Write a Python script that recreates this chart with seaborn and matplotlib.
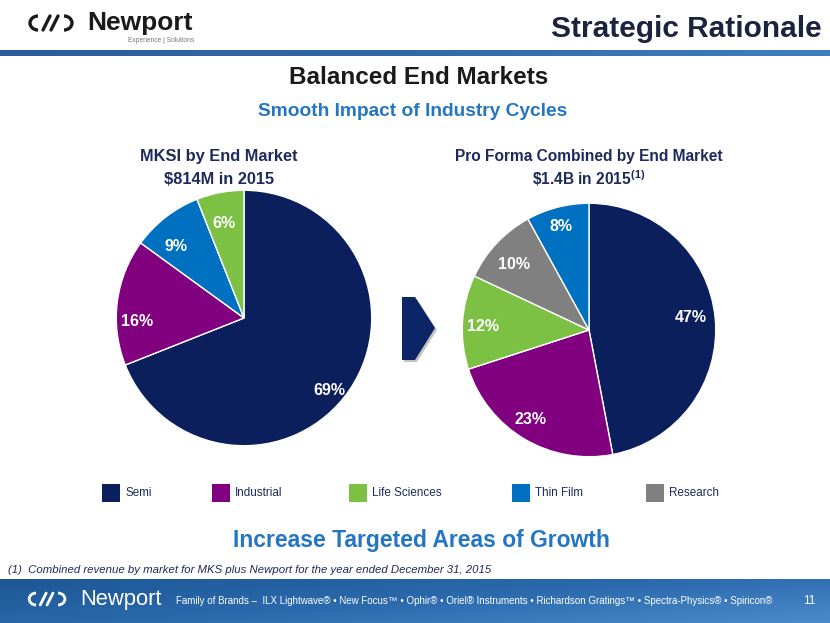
import numpy as np
import matplotlib
matplotlib.use("Agg")
import matplotlib.pyplot as plt
import matplotlib.patches as mpatches
import seaborn as sns

# ---------------- data ----------------
categories = ["Semi", "Industrial", "Life Sciences", "Thin Film", "Research"]
mksi_order = ["Semi", "Industrial", "Thin Film", "Life Sciences"]
mksi_values = [69, 16, 9, 6]
combo_order = ["Semi", "Industrial", "Life Sciences", "Research", "Thin Film"]
combo_values = [47, 23, 12, 10, 8]
mksi_title = ["MKSI by End Market", "$814M in 2015"]
combo_title = ["Pro Forma Combined by End Market", "\\$1.4B in 2015$^{(1)}$"]

# ---------------- style ----------------
sns.set_theme(style="white")
SANS = ["Liberation Sans", "DejaVu Sans"]
NARROW = SANS
plt.rcParams["font.family"] = SANS
plt.rcParams["mathtext.fontset"] = "custom"
plt.rcParams["mathtext.rm"] = "Liberation Sans:bold"
plt.rcParams["mathtext.it"] = "Liberation Sans:bold"

colors = {"Semi": "#0b1f5c", "Industrial": "#800080", "Life Sciences": "#7cc143",
          "Thin Film": "#0070c0", "Research": "#808080"}
NAVY = "#1f2a5c"
BLUE = "#2476c3"

W, H = 830, 623
fig = plt.figure(figsize=(W / 100, H / 100), dpi=100)
fig.patch.set_facecolor("white")

bg = fig.add_axes([0, 0, 1, 1])
bg.set_xlim(0, W)
bg.set_ylim(H, 0)
bg.axis("off")

# top blue line (gradient)
grad = np.linspace(0, 1, 256).reshape(1, -1)
top_cmap = matplotlib.colors.LinearSegmentedColormap.from_list("t", ["#2a5d9a", "#2f6aa8", "#3f7fc0"])
bg.imshow(grad, extent=[0, W, 56, 50], cmap=top_cmap, aspect="auto", zorder=1)

# footer band
foot_cmap = matplotlib.colors.LinearSegmentedColormap.from_list("f", ["#1d5795", "#2b6aad", "#4c8ccb"])
fgrad = np.linspace(0, 1, 256).reshape(-1, 1) * 0.4 + np.linspace(0, 1, 256).reshape(1, -1) * 0.6
bg.imshow(fgrad, extent=[0, W, H, 579], cmap=foot_cmap, aspect="auto", zorder=1)


def logo(ax, x, y, s, col, lw):
    ax.add_patch(mpatches.Arc((x, y), 16 * s, 14 * s, theta1=90, theta2=270, color=col, lw=lw, zorder=3))
    ax.add_patch(mpatches.Arc((x + 26 * s, y), 16 * s, 14 * s, theta1=-90, theta2=90, color=col, lw=lw, zorder=3))
    ax.plot([x + 5 * s, x + 12 * s], [y + 7 * s, y - 7 * s], color=col, lw=lw, zorder=3)
    ax.plot([x + 13 * s, x + 20 * s], [y + 7 * s, y - 7 * s], color=col, lw=lw, zorder=3)


logo(bg, 38, 23, 1.0, "#1a1a1a", 2.4)
bg.text(87, 23, "Newport", fontsize=19, fontweight="bold", color="#1a1a1a",
        family=SANS, va="center", ha="left", zorder=3)
bg.text(128, 41, "Experience | Solutions", fontsize=4.8, color="#777777",
        family=SANS, va="center", ha="left", zorder=3)

# titles
bg.text(822, 29, "Strategic Rationale", fontsize=21.5, fontweight="bold", color="#1c2340",
        family=NARROW, ha="right", va="center", zorder=3)
bg.text(419, 77, "Balanced End Markets", fontsize=17.5, fontweight="bold", color="#1a1a1a",
        family=NARROW, ha="center", va="center", zorder=3)
bg.text(413, 111, "Smooth Impact of Industry Cycles", fontsize=13.8, fontweight="bold", color=BLUE,
        family=NARROW, ha="center", va="center", zorder=3)
bg.text(421, 541, "Increase Targeted Areas of Growth", fontsize=16.5, fontweight="bold", color=BLUE,
        family=NARROW, ha="center", va="center", zorder=3)

for cx, lines, fs in [(219, mksi_title, 11.8), (589, combo_title, 11.2)]:
    bg.text(cx, 157, lines[0], fontsize=fs, fontweight="bold", color=NAVY, family=NARROW,
            ha="center", va="center", zorder=3)
    bg.text(cx, 179, lines[1], fontsize=fs, fontweight="bold", color=NAVY, family=NARROW,
            ha="center", va="baseline" if False else "center", zorder=3)

# chevron arrow
bg.add_patch(mpatches.Polygon([(404, 299), (417, 299), (437, 330), (417, 362), (404, 362)],
                              closed=True, facecolor="#888888", edgecolor="none", alpha=0.5, zorder=2))
bg.add_patch(mpatches.Polygon([(402, 297), (415, 297), (435, 328), (415, 360), (402, 360)],
                              closed=True, facecolor="#0b2566", edgecolor="none", zorder=3))

# legend
leg_x = [102, 212, 349, 512, 646]
for name, x in zip(categories, leg_x):
    bg.add_patch(mpatches.Rectangle((x, 484), 18, 18, facecolor=colors[name], edgecolor="none", zorder=3))
    bg.text(x + 23, 493, name, fontsize=8.4, color=NAVY, family=NARROW, va="center", ha="left", zorder=3)

# footnote
bg.text(8, 570, "(1)  Combined revenue by market for MKS plus Newport for the year ended December 31, 2015",
        fontsize=8.2, style="italic", color=NAVY, family=NARROW, va="center", ha="left", zorder=3)

# footer contents
logo(bg, 36, 599, 0.85, "white", 2.0)
bg.text(80, 600, "Newport", fontsize=15.8, color="white", family=SANS, va="center", ha="left", zorder=3)
bg.text(176, 601, "Family of Brands \u2013  ILX Lightwave\u00ae \u2022 New Focus\u2122 \u2022 Ophir\u00ae \u2022 Oriel\u00ae Instruments "
        "\u2022 Richardson Gratings\u2122 \u2022 Spectra-Physics\u00ae \u2022 Spiricon\u00ae",
        fontsize=7.0, color="white", family=NARROW, va="center", ha="left", zorder=3)
bg.text(809, 601, "11", fontsize=8.5, color="white", family=SANS, va="center", ha="center", zorder=3)


# ---------------- pies ----------------
def pie_axes(cx, cy, r):
    return fig.add_axes([(cx - r) / W, (H - cy - r) / H, 2 * r / W, 2 * r / H])


def draw_pie(ax, order, values, label_pos):
    ax.pie(values, colors=[colors[n] for n in order], startangle=90, counterclock=False,
           wedgeprops=dict(edgecolor="white", linewidth=1.0))
    ax.set_xlim(-1.01, 1.01)
    ax.set_ylim(-1.01, 1.01)
    ax.set_aspect("equal")
    ax.axis("off")
    for v, (x, y) in zip(values, label_pos):
        ax.text(x, y, f"{v}%", color="white", fontsize=11.5, fontweight="bold", family=SANS,
                ha="center", va="center")


ax1 = pie_axes(244, 318, 129)
draw_pie(ax1, mksi_order, mksi_values,
         [(0.67, -0.57), (-0.84, -0.03), (-0.53, 0.56), (-0.16, 0.74)])

ax2 = pie_axes(589, 330, 128)
draw_pie(ax2, combo_order, combo_values,
         [(0.80, 0.10), (-0.46, -0.71), (-0.84, 0.03), (-0.59, 0.52), (-0.22, 0.82)])

fig.savefig("out.png", dpi=100)
